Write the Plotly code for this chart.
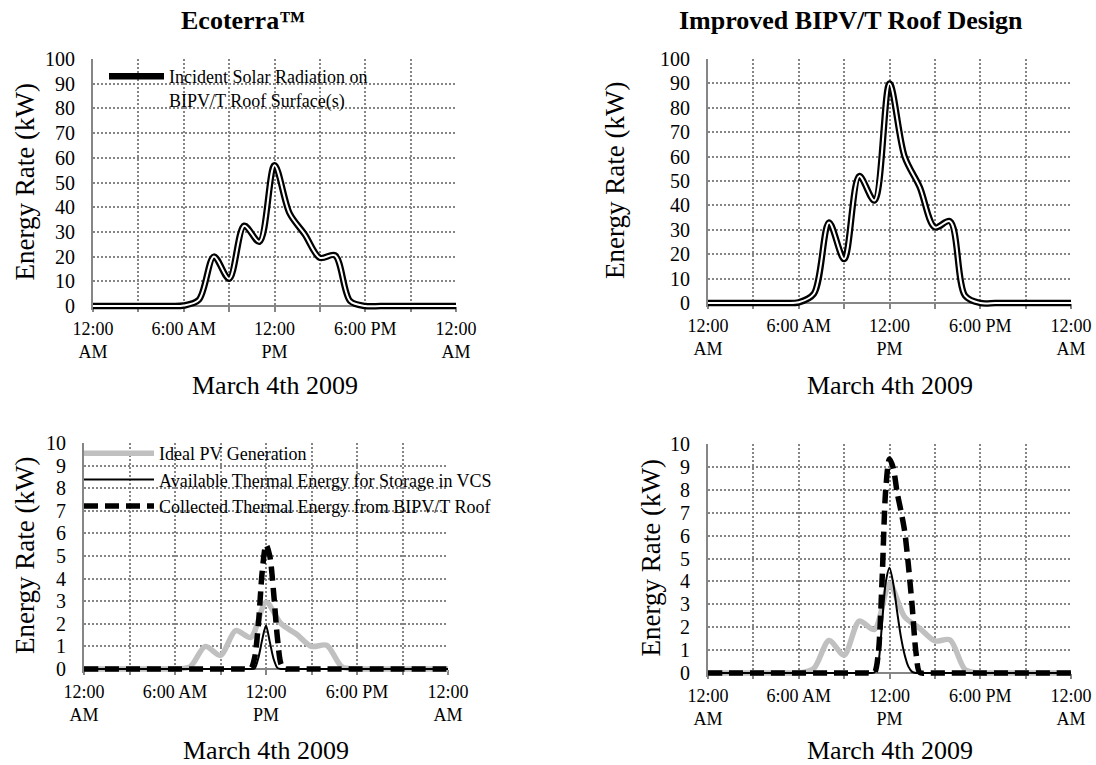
import plotly.graph_objects as go

W, H = 1096, 765
FONT = "Liberation Serif"

# ---------------- data ----------------
HOURS = list(range(25))
TICK_VALS = [0, 6, 12, 18, 24]
TICK_TEXT = ["12:00<br>AM", "6:00 AM", "12:00<br>PM", "6:00 PM", "12:00<br>AM"]
Y_TICKS_TOP = list(range(0, 101, 10))
Y_TICKS_BOTTOM = list(range(0, 11, 1))

ECO_INCIDENT = [0, 0, 0, 0, 0, 0, 0.2, 2.5, 20, 11, 32.5, 26, 57, 37.5, 29, 19.5, 20.5, 2, 0, 0, 0, 0, 0, 0, 0]
IMP_INCIDENT = [0, 0, 0, 0, 0, 0, 0.3, 3.8, 33, 18, 52, 42, 90, 60, 47.5, 31, 33.5, 3, 0, 0, 0, 0, 0, 0, 0]

ECO_PV = [0, 0, 0, 0, 0, 0, 0, 0.1, 1.0, 0.6, 1.7, 1.4, 2.95, 2.0, 1.55, 1.0, 1.05, 0.1, 0, 0, 0, 0, 0, 0, 0]
IMP_PV = [0, 0, 0, 0, 0, 0, 0, 0.2, 1.42, 0.78, 2.27, 1.9, 3.9, 2.45, 1.95, 1.4, 1.45, 0.15, 0, 0, 0, 0, 0, 0, 0]

# thermal series: hourly outside the noon spike, quarter-hourly around it
ECO_AVAIL_T = [0, 1, 2, 3, 4, 5, 6, 7, 8, 9, 10, 10.5, 11, 11.25, 11.5, 11.75, 12, 12.25, 12.5, 12.75, 13, 13.5,
               14, 15, 16, 17, 18, 19, 20, 21, 22, 23, 24]
ECO_AVAIL = [0, 0, 0, 0, 0, 0, 0, 0, 0, 0, 0, 0, 0, 0.02, 0.5, 1.3, 1.92, 1.2, 0.45, 0.05, 0, 0,
             0, 0, 0, 0, 0, 0, 0, 0, 0, 0, 0]

ECO_COLLECT_T = [0, 1, 2, 3, 4, 5, 6, 7, 8, 9, 10, 10.5, 11, 11.25, 11.5, 11.75, 12, 12.25, 12.5, 12.75, 13, 13.25, 13.5,
                 14, 15, 16, 17, 18, 19, 20, 21, 22, 23, 24]
ECO_COLLECT = [0, 0, 0, 0, 0, 0, 0, 0, 0, 0, 0, 0, 0.02, 0.5, 2.0, 4.3, 5.5, 5.0, 3.4, 1.4, 0.2, 0, 0,
               0, 0, 0, 0, 0, 0, 0, 0, 0, 0, 0]

IMP_AVAIL_T = [0, 1, 2, 3, 4, 5, 6, 7, 8, 9, 10, 10.5, 11, 11.25, 11.5, 11.75, 12, 12.25, 12.5, 12.75, 13, 13.25, 13.5,
               13.75, 14, 15, 16, 17, 18, 19, 20, 21, 22, 23, 24]
IMP_AVAIL = [0, 0, 0, 0, 0, 0, 0, 0, 0, 0, 0, 0, 0.02, 0.4, 2.1, 3.95, 4.6, 3.9, 2.7, 1.6, 0.8, 0.28, 0.05,
             0, 0, 0, 0, 0, 0, 0, 0, 0, 0, 0, 0]

IMP_COLLECT_T = [0, 1, 2, 3, 4, 5, 6, 7, 8, 9, 10, 10.5, 11, 11.25, 11.5, 11.75, 12, 12.25, 12.5, 12.75, 13, 13.25,
                 13.5, 13.75, 14, 14.5, 15, 16, 17, 18, 19, 20, 21, 22, 23, 24]
IMP_COLLECT = [0, 0, 0, 0, 0, 0, 0, 0, 0, 0, 0, 0, 0.02, 0.8, 3.9, 8.0, 9.35, 8.95, 7.9, 7.1, 6.2, 4.7,
               2.9, 0.9, 0.02, 0, 0, 0, 0, 0, 0, 0, 0, 0, 0, 0]

NAME_INCIDENT = "Incident Solar Radiation on<br>BIPV/T Roof Surface(s)"
NAME_PV = "Ideal PV Generation"
NAME_AVAIL = "Available Thermal Energy for Storage in VCS"
NAME_COLLECT = "Collected Thermal Energy from BIPV/T Roof"

TITLES = ["Ecoterra™", "Improved BIPV/T Roof Design"]
X_TITLE = "March 4th 2009"
Y_TITLE = "Energy Rate (kW)"

# ---------------- layout geometry (pixels) ----------------
# left, right, top, zero-line, ymax
BOXES = {
    1: (93, 456, 59, 306, 100),
    2: (708, 1071, 59, 303, 100),
    3: (84, 448, 443, 669, 10),
    4: (708, 1071, 444, 673, 10),
}
PAD = 4

GRID_C = "#858585"
AXIS_C = "#868686"

fig = go.Figure()


def px_x(p):
    return p / W


def px_y(p):
    return 1 - p / H


# top plots: double line (black outline, white core)
for i, vals in ((1, ECO_INCIDENT), (2, IMP_INCIDENT)):
    ax = "" if i == 1 else str(i)
    fig.add_trace(go.Scatter(
        x=HOURS, y=vals, mode="lines", name=NAME_INCIDENT,
        line=dict(color="black", width=6.5, shape="spline", smoothing=0.9),
        xaxis="x" + ax, yaxis="y" + ax, showlegend=(i == 1), legend="legend",
    ))
    fig.add_trace(go.Scatter(
        x=HOURS, y=vals, mode="lines", name=NAME_INCIDENT,
        line=dict(color="white", width=2, shape="spline", smoothing=0.9),
        xaxis="x" + ax, yaxis="y" + ax, showlegend=False, hoverinfo="skip",
    ))

for i, pv, at, av, ct, cv in ((3, ECO_PV, ECO_AVAIL_T, ECO_AVAIL, ECO_COLLECT_T, ECO_COLLECT),
                              (4, IMP_PV, IMP_AVAIL_T, IMP_AVAIL, IMP_COLLECT_T, IMP_COLLECT)):
    ax = str(i)
    show = (i == 3)
    fig.add_trace(go.Scatter(
        x=HOURS, y=pv, mode="lines", name=NAME_PV,
        line=dict(color="#c0c0c0", width=5.5, shape="spline", smoothing=0.8),
        xaxis="x" + ax, yaxis="y" + ax, showlegend=show, legend="legend2",
    ))
    fig.add_trace(go.Scatter(
        x=at, y=av, mode="lines", name=NAME_AVAIL,
        line=dict(color="black", width=2, shape="spline", smoothing=0.8),
        xaxis="x" + ax, yaxis="y" + ax, showlegend=show, legend="legend2",
    ))
    fig.add_trace(go.Scatter(
        x=ct, y=cv, mode="lines", name=NAME_COLLECT,
        line=dict(color="black", width=5.5, dash="14px,7px", shape="spline", smoothing=0.8),
        xaxis="x" + ax, yaxis="y" + ax, showlegend=show, legend="legend2",
    ))

layout = dict(
    width=W, height=H,
    margin=dict(l=0, r=0, t=0, b=0, autoexpand=False),
    paper_bgcolor="white", plot_bgcolor="white",
    font=dict(family=FONT, size=18, color="black"),
    annotations=[],
)

for i, (l, r, t, z, ymax) in BOXES.items():
    ax = "" if i == 1 else str(i)
    ppu = (z - t) / ymax
    ymin = -PAD / ppu
    layout["xaxis" + ax] = dict(
        domain=[px_x(l), px_x(r)], range=[0, 24],
        anchor="free", position=px_y(z), automargin=False,
        tickmode="array", tickvals=TICK_VALS, ticktext=TICK_TEXT,
        ticks="outside", ticklen=5, tickwidth=1.5, tickcolor=AXIS_C,
        showline=True, linecolor=AXIS_C, linewidth=2,
        showgrid=True, gridcolor=GRID_C, griddash="2px,2px", gridwidth=1.5,
        minor=dict(dtick=3, tick0=0, ticks="outside", ticklen=5, tickwidth=1.5, tickcolor=AXIS_C,
                   showgrid=True, gridcolor=GRID_C, griddash="2px,2px", gridwidth=1.5),
        zeroline=False, layer="below traces",
        tickfont=dict(family=FONT, size=18, color="black"),
        ticklabelstandoff=1,
    )
    layout["yaxis" + ax] = dict(
        domain=[px_y(z + PAD), px_y(t)], range=[ymin, ymax],
        anchor="x" + ax, automargin=False,
        tickmode="array", tickvals=(Y_TICKS_TOP if ymax == 100 else Y_TICKS_BOTTOM),
        ticks="", showline=True, linecolor=AXIS_C, linewidth=2,
        showgrid=True, gridcolor=GRID_C, griddash="2px,2px", gridwidth=1.5,
        zeroline=False, layer="below traces",
        tickfont=dict(family=FONT, size=20, color="black"),
        ticklabelstandoff=12,
    )
    # axis titles
    layout["annotations"].append(dict(
        text=X_TITLE, xref="paper", yref="paper",
        x=px_x((l + r) / 2), y=px_y(385 if i <= 2 else 750),
        xanchor="center", yanchor="middle", showarrow=False,
        font=dict(family=FONT, size=26, color="black"),
    ))
    ytx = {1: 24, 2: 615, 3: 25, 4: 650}[i]
    layout["annotations"].append(dict(
        text=Y_TITLE, xref="paper", yref="paper",
        x=px_x(ytx), y=px_y((t + z) / 2), textangle=-90,
        xanchor="center", yanchor="middle", showarrow=False,
        font=dict(family=FONT, size=27, color="black"),
    ))

for txt, cx in zip(TITLES, (243, 851)):
    layout["annotations"].append(dict(
        text="<b>" + txt + "</b>", xref="paper", yref="paper",
        x=px_x(cx), y=px_y(20), xanchor="center", yanchor="middle", showarrow=False,
        font=dict(family=FONT, size=26, color="black"),
    ))

layout["legend"] = dict(
    x=px_x(104), y=px_y(58), xanchor="left", yanchor="top",
    bgcolor="rgba(0,0,0,0)", borderwidth=0, valign="top",
    font=dict(family=FONT, size=18, color="black"), itemwidth=55,
)
layout["legend2"] = dict(
    x=px_x(79), y=px_y(435), xanchor="left", yanchor="top",
    bgcolor="rgba(0,0,0,0)", borderwidth=0,
    font=dict(family=FONT, size=18, color="black"), itemwidth=70,
)

fig.update_layout(**layout)
fig.write_html("out.html")
